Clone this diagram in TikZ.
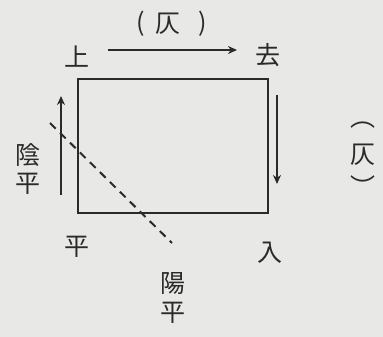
\documentclass[tikz,border=0pt]{standalone}
\usepackage{fontspec}
\newfontfamily\cjk{Noto Sans CJK JP}
\usetikzlibrary{arrows.meta,backgrounds}
\definecolor{paper}{HTML}{E8E8E6}
\definecolor{ink}{HTML}{2A2A2A}
\tikzset{
  scanned/.style = {
    background rectangle/.style={fill=paper},
    show background rectangle,
    inner frame sep=0pt
  },
  tone/.style = {font=\cjk\fontsize{25}{27}\selectfont, text=ink, inner sep=0pt},
  flow/.style = {->, ink, line width=2pt},
  >={Stealth[length=9pt,width=8pt]}
}

\begin{document}
\begin{tikzpicture}[scanned,x=1pt,y=-1pt]
  \useasboundingbox (0,0) rectangle (383,337);
  % the square of the four tones
  \coordinate (TL) at (78,79);
  \coordinate (BR) at (268,213);
  \draw[ink,line width=2pt] (TL) rectangle (BR);
  % corners
  \node[tone] (shang) at (77,57) {上};
  \node[tone] (qu) at (268,55) {去};
  \node[tone] (ru) at (270,253) {入};
  \node[tone] (ping) at (77,247) {平};
  % ze along the top and down the side
  \coordinate (T1) at (108,50);
  \coordinate (T2) at (237,50);
  \draw[flow] (T1) -- (T2);
  \node[tone] (zeleft) at (141,24) {(};
  \node[tone] (ze) at (168,24) {仄};
  \node[tone] (zeright) at (203,24) {)};
  \coordinate (R1) at (277,95);
  \coordinate (R2) at (277,184);
  \draw[flow] (R1) -- (R2);
  \node[tone] (zeopen) at (363,125) {︵};
  \node[tone] (zev) at (363,155) {仄};
  \node[tone] (zeclose) at (363,186) {︶};
  % yin ping going up
  \coordinate (L1) at (61,195);
  \coordinate (L2) at (61,96);
  \draw[flow] (L1) -- (L2);
  \node[tone] (yin) at (28,155) {陰};
  \node[tone] (yinping) at (28,184) {平};
  % yang ping split
  \coordinate (D1) at (50,123);
  \coordinate (D2) at (172,243);
  \draw[ink,line width=2pt,dash pattern=on 8pt off 6pt] (D1) -- (D2);
  \node[tone] (yang) at (173,284) {陽};
  \node[tone] (yangping) at (173,313) {平};
\end{tikzpicture}
\end{document}
